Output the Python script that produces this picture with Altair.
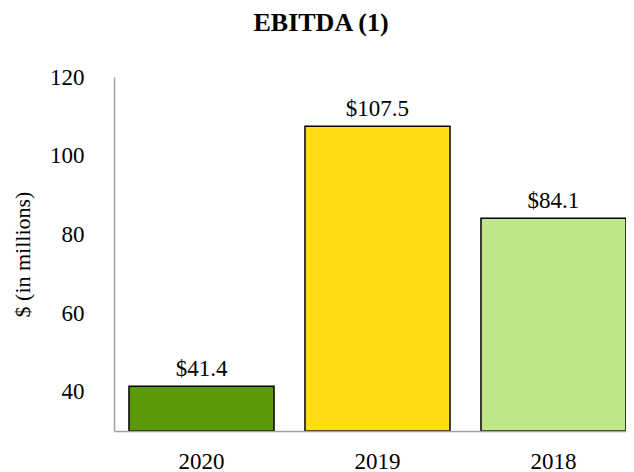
import altair as alt
import pandas as pd

years = ["2020", "2019", "2018"]
ebitda = [41.4, 107.5, 84.1]
labels = ["$41.4", "$107.5", "$84.1"]
colors = ["#5A9A08", "#FFDD12", "#C0E68A"]

df = pd.DataFrame({"year": years, "value": ebitda, "label": labels})

FONT = "Liberation Serif"

x = alt.X("year:N", sort=years, title=None,
          scale=alt.Scale(paddingInner=0.176, paddingOuter=0.0426, align=1),
          axis=alt.Axis(labelAngle=0, ticks=False, labelPadding=19, labelFontSize=23,
                        labelFont=FONT, labelColor="#000000", domainColor="#A0A0A0",
                        domainWidth=1.5, zindex=1))
y = alt.Y("value:Q", title="$ (in millions)",
          scale=alt.Scale(domain=[30, 120], nice=False, zero=False),
          axis=alt.Axis(values=[40, 60, 80, 100, 120], grid=False, ticks=False,
                        labelPadding=30, labelFontSize=23, labelFont=FONT,
                        labelColor="#000000", domainColor="#A0A0A0", domainWidth=1.5,
                        titleFont=FONT, titleFontSize=22, titleFontWeight="normal",
                        titleColor="#000000", titleX=-92, titleBaseline="middle"))

bars = alt.Chart(df).mark_bar(stroke="#000000", strokeWidth=1.5).encode(
    x=x, y=y, y2=alt.datum(30),
    color=alt.Color("year:N", sort=years,
                    scale=alt.Scale(domain=years, range=colors), legend=None),
)
text = alt.Chart(df).mark_text(baseline="alphabetic", dy=-10, fontSize=23,
                               font=FONT, color="#000000").encode(
    x=alt.X("year:N", sort=years), y="value:Q", text="label:N")

chart = (bars + text).properties(
    width=512, height=354,
    title=alt.TitleParams("EBITDA (1)", font=FONT, fontSize=26, fontWeight="bold",
                          color="#000000", anchor="middle", frame="group", dx=-49,
                          baseline="bottom", offset=4),
    autosize=alt.AutoSizeParams(type="none"),
    padding={"left": 106, "top": 69, "right": 0, "bottom": 41},
).configure_view(stroke=None)

chart.save("out.html", embed_options={"renderer": "svg", "actions": False})
